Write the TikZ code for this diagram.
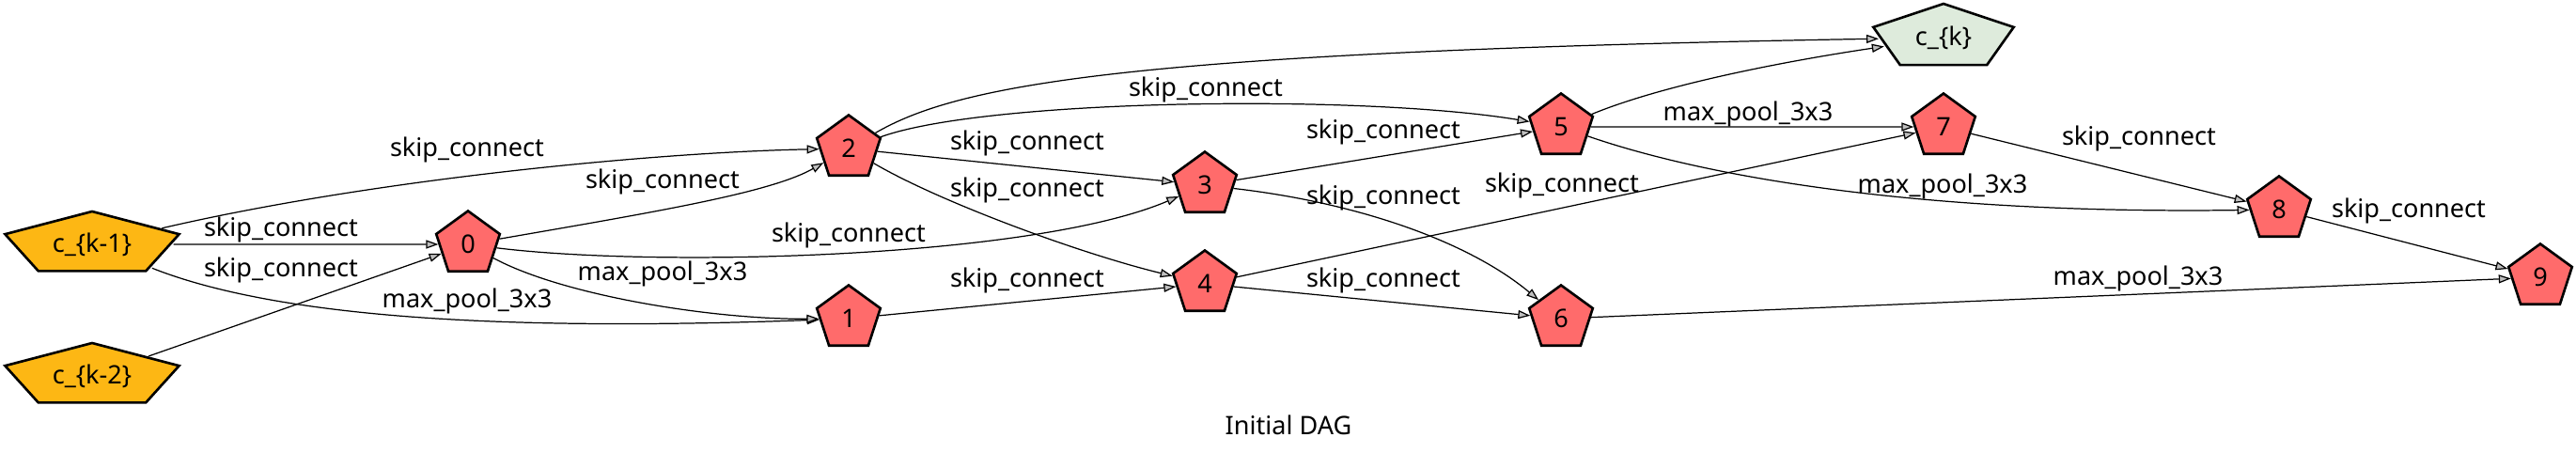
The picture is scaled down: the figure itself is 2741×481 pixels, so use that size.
\documentclass[tikz,border=0pt]{standalone}
\usepackage{fontspec}
\setmainfont{Noto Sans}
\usetikzlibrary{shapes.geometric}
\usetikzlibrary{arrows.meta}
\definecolor{opcolor}{RGB}{255,107,107}
\definecolor{incolor}{RGB}{253,183,20}
\definecolor{outcolor}{RGB}{222,235,220}
\newcommand{\unstretch}[2]{\scalebox{#1}[1]{#2}}
\tikzset{
	opstyle/.style={regular polygon,regular polygon sides=5,minimum size=0.71cm,inner sep=0pt,draw=black,line width=0.75pt,fill=opcolor},
	instyle/.style={regular polygon,regular polygon sides=5,minimum size=0.70cm,inner sep=0pt,draw=black,line width=0.75pt,fill=incolor,transform shape,xscale=2.78},
	outstyle/.style={regular polygon,regular polygon sides=5,minimum size=0.72cm,inner sep=0pt,draw=black,line width=0.75pt,fill=outcolor,transform shape,xscale=2.18},
	edgestyle/.style={line width=0.35pt,-{Triangle[length=1.3mm,width=0.9mm,fill=black!25]}},
	labelstyle/.style={inner sep=0pt}
}

\begin{document}
\begin{tikzpicture}[x=0.01cm,y=0.01cm,font=\fontsize{7.7}{9}\selectfont]
		\useasboundingbox (0,0) rectangle (2741,-481);
		\node[instyle] (ck1) at (98,-260) {\unstretch{0.36}{c\_\{k-1\}}};
		\node[instyle] (ck2) at (98,-400) {\unstretch{0.36}{c\_\{k-2\}}};
		\node[outstyle] (ck) at (2068,-40) {\unstretch{0.459}{c\_\{k\}}};
		\node[opstyle] (n0) at (498,-260) {0};
		\node[opstyle] (n1) at (903,-339) {1};
		\node[opstyle] (n2) at (903,-158) {2};
		\node[opstyle] (n3) at (1282,-197) {3};
		\node[opstyle] (n4) at (1282,-302) {4};
		\node[opstyle] (n5) at (1661,-135) {5};
		\node[opstyle] (n6) at (1661,-339) {6};
		\node[opstyle] (n7) at (2068,-135) {7};
		\node[opstyle] (n8) at (2425,-223) {8};
		\node[opstyle] (n9) at (2703,-295) {9};
		% operation labels
		\node[labelstyle] (l1) at (497,-159) {skip\_connect};
		\node[labelstyle] (l2) at (299,-244) {skip\_connect};
		\node[labelstyle] (l3) at (299,-287) {skip\_connect};
		\node[labelstyle] (l4) at (497,-320) {max\_pool\_3x3};
		\node[labelstyle] (l5) at (705,-193) {skip\_connect};
		\node[labelstyle] (l6) at (903,-250) {skip\_connect};
		\node[labelstyle] (l7) at (705,-291) {max\_pool\_3x3};
		\node[labelstyle] (l8) at (1283,-95) {skip\_connect};
		\node[labelstyle] (l9) at (1093,-152) {skip\_connect};
		\node[labelstyle] (l10) at (1093,-202) {skip\_connect};
		\node[labelstyle] (l11) at (1093,-298) {skip\_connect};
		\node[labelstyle] (l12) at (1472,-140) {skip\_connect};
		\node[labelstyle] (l13) at (1472,-210) {skip\_connect};
		\node[labelstyle] (l14) at (1662,-197) {skip\_connect};
		\node[labelstyle] (l15) at (1472,-298) {skip\_connect};
		\node[labelstyle] (l16) at (1860,-121) {max\_pool\_3x3};
		\node[labelstyle] (l17) at (2067,-198) {max\_pool\_3x3};
		\node[labelstyle] (l18) at (2276,-147) {skip\_connect};
		\node[labelstyle] (l19) at (2563,-224) {skip\_connect};
		\node[labelstyle] (l20) at (2275,-296) {max\_pool\_3x3};
		\node[labelstyle] (title) at (1371,-452) {Initial DAG};
		% edges
		\draw[edgestyle] (ck1) .. controls (400,-190) and (700,-162) .. (n2);
		\draw[edgestyle] (ck1) -- (n0);
		\draw[edgestyle] (ck2) -- (n0);
		\draw[edgestyle] (ck1) .. controls (300,-340) and (550,-352) .. (n1);
		\draw[edgestyle] (n0) .. controls (700,-225) and (820,-205) .. (n2);
		\draw[edgestyle] (n0) .. controls (700,-285) and (1100,-275) .. (n3);
		\draw[edgestyle] (n0) .. controls (600,-315) and (760,-340) .. (n1);
		\draw[edgestyle] (n2) .. controls (1050,-105) and (1450,-100) .. (n5);
		\draw[edgestyle] (n2) -- (n3);
		\draw[edgestyle] (n2) .. controls (1000,-215) and (1150,-270) .. (n4);
		\draw[edgestyle] (n2) .. controls (1020,-90) and (1200,-55) .. (ck);
		\draw[edgestyle] (n1) -- (n4);
		\draw[edgestyle] (n3) -- (n5);
		\draw[edgestyle] (n3) .. controls (1440,-215) and (1560,-255) .. (n6);
		\draw[edgestyle] (n4) -- (n7);
		\draw[edgestyle] (n4) -- (n6);
		\draw[edgestyle] (n5) .. controls (1770,-90) and (1900,-65) .. (ck);
		\draw[edgestyle] (n5) -- (n7);
		\draw[edgestyle] (n5) .. controls (1820,-190) and (2050,-228) .. (n8);
		\draw[edgestyle] (n7) -- (n8);
		\draw[edgestyle] (n8) -- (n9);
		\draw[edgestyle] (n6) -- (n9);
\end{tikzpicture}
\end{document}
